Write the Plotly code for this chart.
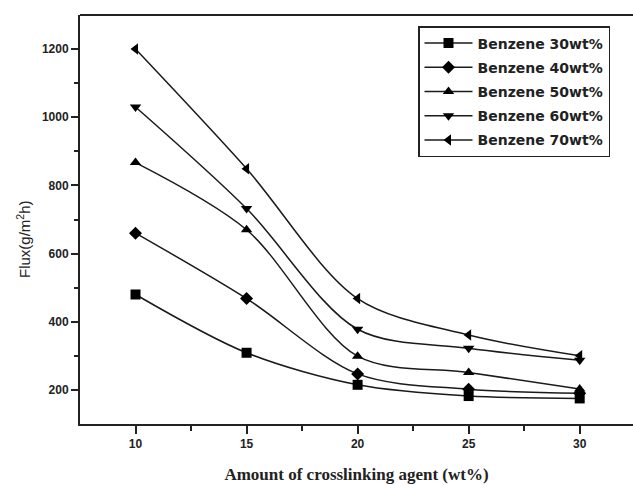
import plotly.graph_objects as go

crosslinker = [10, 15, 20, 25, 30]
benzene_30 = [480, 309, 215, 182, 175]
benzene_40 = [660, 468, 247, 202, 190]
benzene_50 = [867, 670, 299, 251, 203]
benzene_60 = [1030, 732, 378, 322, 287]
benzene_70 = [1200, 849, 468, 361, 300]

series_names = ["Benzene 30wt%", "Benzene 40wt%", "Benzene 50wt%", "Benzene 60wt%", "Benzene 70wt%"]
series_values = [benzene_30, benzene_40, benzene_50, benzene_60, benzene_70]
symbols = ["square", "diamond", "triangle-up", "triangle-down", "triangle-left"]

fig = go.Figure()
for i, (name, vals, sym) in enumerate(zip(series_names, series_values, symbols)):
    fig.add_trace(go.Scatter(
        x=crosslinker, y=vals, name=name, mode="lines+markers",
        line=dict(color="#1a1a1a", width=1.5, shape="spline", smoothing=0.9),
        marker=dict(symbol=sym, size=10, color="#000"),
        legendgroup=f"g{i}",
    ))

fig.add_annotation(
    x=(23 - 80) / 553, y=(424 - 239) / 409, xref="paper", yref="paper",
    xanchor="center", yanchor="middle",
    text="Flux(g/m<sup>2</sup>h)",
    showarrow=False, textangle=-90, font=dict(family="Liberation Sans", size=15, color="#222"),
)

# top frame line
fig.add_shape(type="line", xref="paper", yref="paper", x0=0, x1=1, y0=1, y1=1,
              line=dict(color="#222", width=2))

fig.update_layout(
    width=633, height=485,
    margin=dict(l=80, r=0, t=15, b=61),
    paper_bgcolor="white", plot_bgcolor="white",
    showlegend=True,
    legend=dict(
        x=(418 - 80) / 553, y=(424 - 26) / 409, xanchor="left", yanchor="top",
        bordercolor="#222", borderwidth=1.5, bgcolor="white",
        font=dict(family="DejaVu Sans", size=14, color="#222", weight="bold"),
        tracegroupgap=3, traceorder="grouped", itemwidth=48,
    ),
    xaxis=dict(
        range=[7.5, 32.4], tickvals=crosslinker, ticktext=[str(v) for v in crosslinker],
        showline=True, linecolor="#222", linewidth=2, mirror=False,
        ticks="outside", ticklen=8, tickwidth=1.5, tickcolor="#222",
        minor=dict(tickvals=[12.5, 17.5, 22.5, 27.5], ticks="outside", ticklen=5, tickwidth=1.5, tickcolor="#222"),
        showgrid=False, zeroline=False,
        tickfont=dict(family="Liberation Sans", size=12, color="#222", weight="bold"),
        title=dict(text="Amount of crosslinking agent (wt%)", standoff=18,
                   font=dict(family="Liberation Serif", size=17, color="#222", weight="bold")),
    ),
    yaxis=dict(
        range=[100, 1300], tickvals=[200, 400, 600, 800, 1000, 1200],
        showline=True, linecolor="#222", linewidth=2, mirror=False,
        ticks="outside", ticklen=7, tickwidth=1.5, tickcolor="#222",
        minor=dict(tickvals=[300, 500, 700, 900, 1100], ticks="outside", ticklen=4, tickwidth=1.5, tickcolor="#222"),
        showgrid=False, zeroline=False,
        tickfont=dict(family="Liberation Sans", size=12, color="#222", weight="bold"),
    ),
)

fig.write_html(
    "out.html",
    config={"displayModeBar": False},
    post_script="document.body.style.margin='0';document.body.style.overflow='hidden';",
)
